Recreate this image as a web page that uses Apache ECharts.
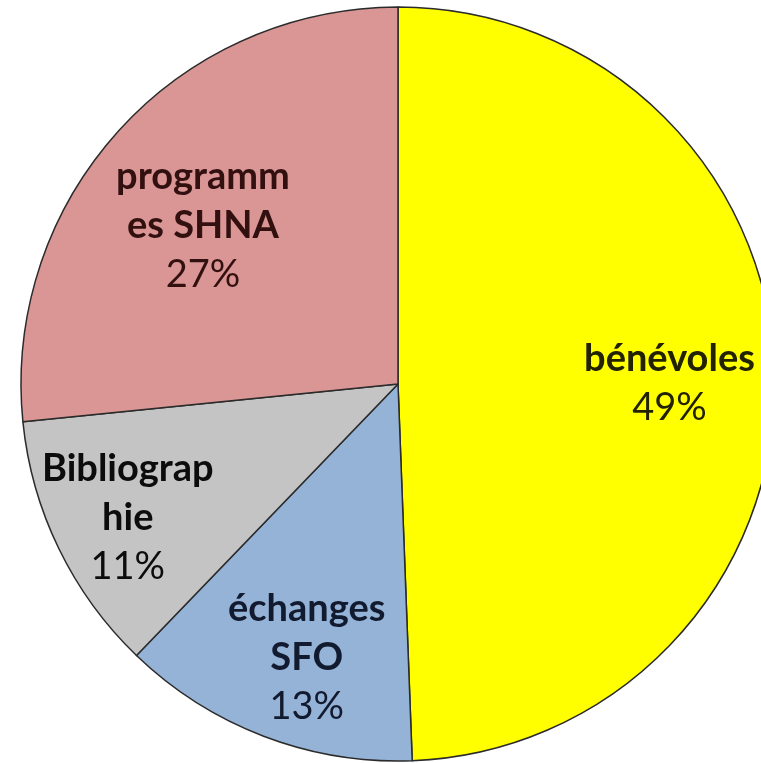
<!DOCTYPE html>
<html>
<head>
<meta charset="utf-8">
<script src="https://cdn.jsdelivr.net/npm/echarts@6/dist/echarts.min.js"></script>
<style>
html,body{margin:0;padding:0;background:#fff;}
#c{width:761px;height:763px;}
</style>
</head>
<body>
<div id="c"></div>
<script>
// Data
const categories = ["bénévoles", "échanges SFO", "Bibliographie", "programmes SHNA"];
const labelLines = ["bénévoles", "échanges\nSFO", "Bibliograp\nhie", "programm\nes SHNA"];
const values = [49.4, 12.8, 11.2, 26.6];

// Styling / layout
const colors = ["#FFFF00", "#95B3D7", "#C4C4C4", "#D99694"];
const textColors = ["#222200", "#111a2e", "#0c0c0c", "#331010"];
const labelNudge = [[80, 3], [-23, 95], [-98, 50], [-53, -30]];

const chart = echarts.init(document.getElementById('c'), null, {renderer: 'canvas'});
chart.setOption({
  backgroundColor: '#ffffff',
  animation: false,
  series: [{
    type: 'pie',
    center: [398, 384],
    radius: [0, 377],
    startAngle: 90,
    clockwise: true,
    avoidLabelOverlap: false,
    emphasis: {disabled: true},
    itemStyle: {borderColor: '#2b2b2b', borderWidth: 1.5},
    label: {
      show: true,
      position: 'inside',
      formatter: function (p) {
        return '{n|' + labelLines[p.dataIndex] + '}\n{p|' + Math.round(p.percent) + '%}';
      },
      rich: {
        n: {fontFamily: 'Lato', fontWeight: 'bold', fontSize: 38, lineHeight: 49, align: 'center'},
        p: {fontFamily: 'Lato', fontWeight: 'normal', fontSize: 38, lineHeight: 49, align: 'center'}
      }
    },
    labelLine: {show: false},
    labelLayout: function (params) {
      const n = labelNudge[params.dataIndex];
      return {dx: n[0], dy: n[1]};
    },
    data: categories.map(function (c, i) {
      return {
        name: c,
        value: values[i],
        itemStyle: {color: colors[i]},
        label: {color: textColors[i], rich: {n: {color: textColors[i]}, p: {color: textColors[i]}}}
      };
    })
  }]
});
</script>
</body>
</html>
